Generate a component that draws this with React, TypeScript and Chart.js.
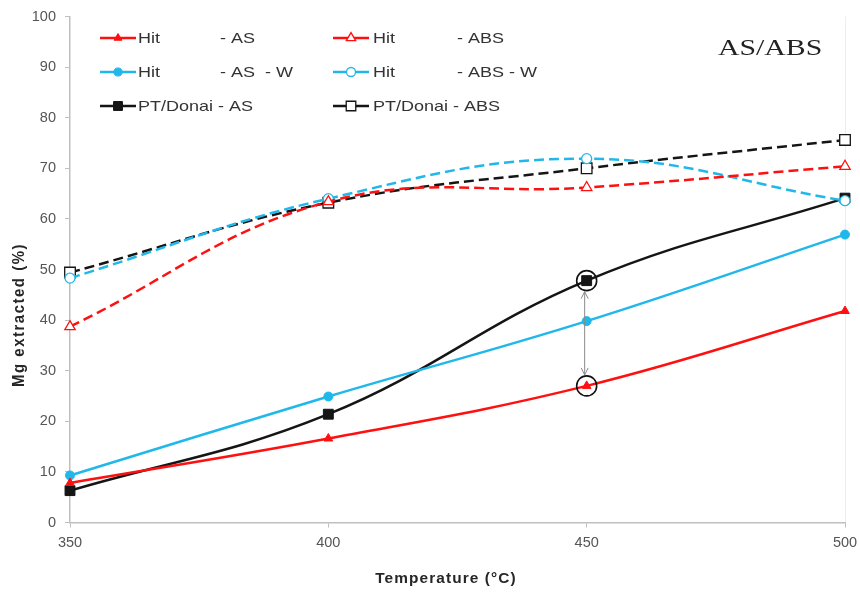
import React, { useEffect, useRef } from "react";
import { Chart, registerables } from "chart.js";
import { drawPoint } from "chart.js/helpers";
Chart.register(...registerables);

// ---- Data ----
const temperatures = [350, 400, 450, 500];
const hitAS = [7.8, 16.6, 27.0, 41.8];
const hitABS = [38.7, 63.4, 66.2, 70.4];
const hitASW = [9.3, 24.9, 39.8, 56.9];
const hitABSW = [48.3, 64.0, 71.9, 63.6];
const ptAS = [6.3, 21.4, 47.8, 64.1];
const ptABS = [49.4, 63.2, 70.0, 75.6];

const seriesNames = [
  "Hit - AS",
  "Hit - ABS",
  "Hit - AS - W",
  "Hit - ABS - W",
  "PT/Donai - AS",
  "PT/Donai - ABS",
];
// legend text pieces: [first word, suffix]
const legendParts: string[][] = [
  ["Hit", "- AS"],
  ["Hit", "- ABS"],
  ["Hit", "- AS  - W"],
  ["Hit", "- ABS - W"],
  ["PT/Donai - AS", ""],
  ["PT/Donai - ABS", ""],
];
const chartTitle = "AS/ABS";
const xTitle = "Temperature (°C)";
const yTitle = "Mg extracted (%)";
const highlightTemp = 450;
const highlightLow = hitAS[2];
const highlightHigh = ptAS[2];

const RED = "#ff1010";
const CYAN = "#20b8ea";
const BLACK = "#151515";

function pts(vals: number[]) {
  return temperatures.map((t, i) => ({ x: t, y: vals[i] }));
}

function drawStretched(ctx: CanvasRenderingContext2D, text: string, x: number, y: number, sx: number) {
  ctx.save();
  ctx.translate(x, y);
  ctx.scale(sx, 1);
  ctx.fillText(text, 0, 0);
  ctx.restore();
}

const overlayPlugin = {
  id: "overlay",
  afterDraw(chart: any) {
    const ctx: CanvasRenderingContext2D = chart.ctx;
    const xs = chart.scales.x;
    const ys = chart.scales.y;

    // Annotation circles and arrow
    const px = xs.getPixelForValue(highlightTemp);
    const pyHigh = ys.getPixelForValue(highlightHigh);
    const pyLow = ys.getPixelForValue(highlightLow);
    ctx.save();
    ctx.strokeStyle = "#111";
    ctx.lineWidth = 1.6;
    ctx.beginPath();
    ctx.arc(px, pyHigh, 10, 0, Math.PI * 2);
    ctx.stroke();
    ctx.beginPath();
    ctx.arc(px, pyLow, 10, 0, Math.PI * 2);
    ctx.stroke();
    const ax = px - 2;
    const top = pyHigh + 11;
    const bot = pyLow - 11;
    ctx.strokeStyle = "#8a8a8a";
    ctx.lineWidth = 1;
    ctx.beginPath();
    ctx.moveTo(ax, top);
    ctx.lineTo(ax, bot);
    ctx.moveTo(ax - 3.5, top + 7);
    ctx.lineTo(ax, top);
    ctx.lineTo(ax + 3.5, top + 7);
    ctx.moveTo(ax - 3.5, bot - 7);
    ctx.lineTo(ax, bot);
    ctx.lineTo(ax + 3.5, bot - 7);
    ctx.stroke();
    ctx.restore();

    // Legend
    const colLine = [100, 333];
    const colText = [138, 373];
    const colSuffix = [220, 457];
    const rowY = [38, 72, 106];
    chart.data.datasets.forEach((ds: any, i: number) => {
      const col = i % 2;
      const row = Math.floor(i / 2);
      const y = rowY[row];
      const x0 = colLine[col];
      ctx.save();
      ctx.strokeStyle = ds.borderColor;
      ctx.lineWidth = 2.5;
      ctx.beginPath();
      ctx.moveTo(x0, y);
      ctx.lineTo(x0 + 36, y);
      ctx.stroke();
      ctx.fillStyle = ds.pointBackgroundColor;
      ctx.strokeStyle = ds.pointBorderColor;
      ctx.lineWidth = ds.pointBorderWidth;
      drawPoint(
        ctx,
        {
          pointStyle: ds.pointStyle,
          radius: ds.pointRadius * 0.9,
          rotation: 0,
          borderWidth: ds.pointBorderWidth,
        } as any,
        x0 + 18,
        y
      );
      ctx.restore();
      ctx.save();
      ctx.fillStyle = "#333333";
      ctx.font = "15px 'Liberation Sans', Arial, sans-serif";
      ctx.textBaseline = "middle";
      const parts = legendParts[i];
      drawStretched(ctx, parts[0], colText[col], y + 1, 1.2);
      if (parts[1]) drawStretched(ctx, parts[1], colSuffix[col], y + 1, 1.2);
      ctx.restore();
    });

    // Title
    ctx.save();
    ctx.fillStyle = "#222222";
    ctx.font = "24px 'Liberation Serif', 'Times New Roman', serif";
    ctx.textBaseline = "alphabetic";
    drawStretched(ctx, chartTitle, 718, 55, 1.24);
    ctx.restore();

    // Axis titles
    ctx.save();
    ctx.fillStyle = "#262626";
    ctx.font = "bold 14px 'Liberation Sans', Arial, sans-serif";
    (ctx as any).letterSpacing = "1px";
    ctx.textAlign = "left";
    ctx.textBaseline = "middle";
    const xw = ctx.measureText(xTitle).width * 1.1;
    drawStretched(ctx, xTitle, 446 - xw / 2, 579, 1.1);
    ctx.restore();

    ctx.save();
    ctx.fillStyle = "#262626";
    ctx.font = "bold 15px 'Liberation Sans', Arial, sans-serif";
    (ctx as any).letterSpacing = "1.5px";
    ctx.textAlign = "center";
    ctx.textBaseline = "middle";
    ctx.translate(19, 315);
    ctx.rotate(-Math.PI / 2);
    ctx.scale(1, 1.15);
    ctx.fillText(yTitle, 0, 0);
    ctx.restore();
  },
};

export default function App() {
  const ref = useRef<HTMLCanvasElement>(null);
  useEffect(() => {
    const canvas = ref.current!;
    const mk = (
      label: string,
      vals: number[],
      color: string,
      dashed: boolean,
      style: string,
      filled: boolean,
      radius: number
    ) => ({
      label,
      data: pts(vals),
      borderColor: color,
      borderWidth: 2.5,
      borderDash: dashed ? [10, 5] : [],
      tension: 0.4,
      pointStyle: style,
      pointRadius: radius,
      pointBackgroundColor: filled ? color : "#ffffff",
      pointBorderColor: color,
      pointBorderWidth: filled ? 1 : 1.3,
      fill: false,
      clip: false as any,
    });
    const tickFont = { family: "'Liberation Sans', Arial, sans-serif", size: 14.5 };
    const chart = new Chart(canvas, {
      type: "line",
      data: {
        datasets: [
          mk(seriesNames[0], hitAS, RED, false, "triangle", true, 5),
          mk(seriesNames[1], hitABS, RED, true, "triangle", false, 6),
          mk(seriesNames[2], hitASW, CYAN, false, "circle", true, 4.5),
          mk(seriesNames[3], hitABSW, CYAN, true, "circle", false, 5),
          mk(seriesNames[4], ptAS, BLACK, false, "rect", true, 7),
          mk(seriesNames[5], ptABS, BLACK, true, "rect", false, 7.5),
        ],
      },
      options: {
        animation: false,
        responsive: false,
        devicePixelRatio: 1,
        layout: { padding: { top: 16.5, right: 15, left: 0, bottom: 0 } },
        plugins: { legend: { display: false }, tooltip: { enabled: false } },
        scales: {
          x: {
            type: "linear",
            min: 350,
            max: 500,
            afterFit: (s: any) => {
              s.height = 69.5;
              s.paddingRight = 0;
              s.paddingLeft = 0;
            },
            ticks: {
              stepSize: 50,
              color: "#555555",
              font: tickFont,
              padding: 7,
              maxRotation: 0,
            },
            grid: {
              drawOnChartArea: true,
              color: (c: any) => (c.tick && c.tick.value === 500 ? "#ededed" : "rgba(0,0,0,0)"),
              tickColor: "#bfbfbf",
              tickLength: 5,
            },
            border: { color: "#bfbfbf", width: 1.5 },
          },
          y: {
            min: 0,
            max: 100,
            afterFit: (s: any) => {
              s.width = 70;
              s.paddingTop = 0;
              s.paddingBottom = 0;
            },
            ticks: {
              stepSize: 10,
              color: "#555555",
              font: tickFont,
              padding: 9,
            },
            grid: { drawOnChartArea: false, tickColor: "#bfbfbf", tickLength: 5 },
            border: { color: "#bfbfbf", width: 1.5 },
          },
        },
      } as any,
      plugins: [overlayPlugin as any],
    });
    return () => chart.destroy();
  }, []);
  return (
    <div style={{ position: "fixed", left: 0, top: 0, width: 860, height: 592, background: "#fff" }}>
      <canvas ref={ref} width={860} height={592} style={{ width: 860, height: 592, display: "block" }} />
    </div>
  );
}
